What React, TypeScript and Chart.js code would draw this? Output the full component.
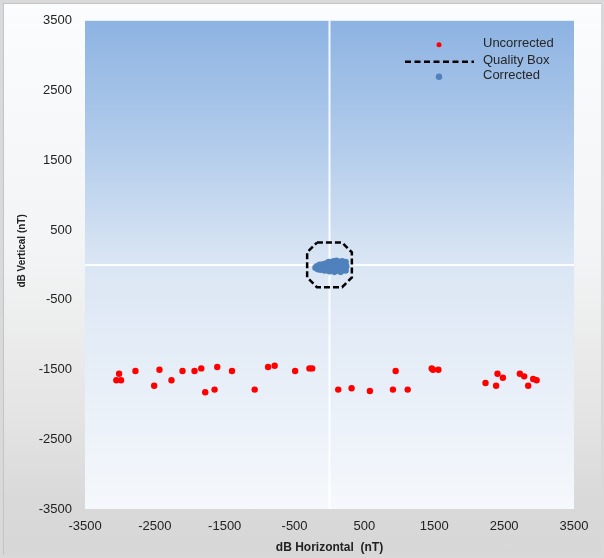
import React, { useEffect, useRef } from "react";
import { Chart, registerables } from "chart.js";

Chart.register(...registerables);

const xTickValues = [-3500, -2500, -1500, -500, 500, 1500, 2500, 3500];
const yTickValues = [-3500, -2500, -1500, -500, 500, 1500, 2500, 3500];

const uncorrectedX = [
  -3012, -3051, -2984, -2778, -2510, -2434, -2262, -2104, -1932, -1836,
  -1779, -1645, -1607, -1396, -1071, -879, -785, -492, -287, -248,
  125, 316, 578, 947, 908, 1119, 1463, 1482, 1559, 2233,
  2385, 2405, 2482, 2725, 2787, 2844, 2916, 2965,
];
const uncorrectedY = [
  -1561, -1655, -1655, -1522, -1732, -1504, -1655, -1522, -1522, -1484,
  -1825, -1788, -1465, -1522, -1788, -1465, -1447, -1522, -1484, -1484,
  -1788, -1769, -1807, -1522, -1788, -1788, -1484, -1504, -1504, -1693,
  -1732, -1561, -1618, -1561, -1598, -1732, -1636, -1655,
];

const correctedX = [
  -200, -180, -170, -150, -140, -130, -110, -100, -90, -70,
  -60, -50, -40, -20, -10, 0, 10, 20, 40, 50,
  60, 70, 80, 90, 100, 110, 120, 130, 140, 150,
  160, 170, 180, 190, 200, 210, 220, 230, 240, 230,
];
const correctedY = [
  -40, -20, -60, -30, 0, -70, -20, -50, 10, -80,
  -30, 20, -60, 0, 40, -90, -40, 30, -70, 10,
  50, -100, -30, 30, 60, -80, -10, 40, -60, 20,
  -100, -30, 50, -70, 0, -40, 30, -80, -20, 40,
];

const qualityBoxX = [-180, 180, 320, 320, 180, -180, -320, -320, -180];
const qualityBoxY = [320, 320, 180, -180, -320, -320, -180, 180, 320];

const legendLabels = ["Uncorrected", "Quality Box", "Corrected"];
const xTitle = "dB Horizontal  (nT)";
const yTitle = "dB Vertical (nT)";

const RED = "#ff0000";
const BLUE = "#4f81bd";
const FONT = "'Liberation Sans', Arial, sans-serif";

const zip = (xs: number[], ys: number[]) => xs.map((x, i) => ({ x, y: ys[i] }));

const plotBgPlugin = {
  id: "plotBg",
  beforeDraw(chart: any) {
    const { ctx, chartArea } = chart;
    const { left, top, right, bottom } = chartArea;
    const g = ctx.createLinearGradient(0, top, 0, bottom);
    g.addColorStop(0, "#8db3e2");
    g.addColorStop(0.25, "#b1cbeb");
    g.addColorStop(0.5, "#dbe6f4");
    g.addColorStop(1, "#f5f8fc");
    ctx.save();
    ctx.fillStyle = g;
    ctx.fillRect(left, top, right - left, bottom - top);
    ctx.restore();
  },
};

const zeroLinesPlugin = {
  id: "zeroLines",
  beforeDatasetsDraw(chart: any) {
    const { ctx, chartArea, scales } = chart;
    const x0 = scales.x.getPixelForValue(0);
    const y0 = scales.y.getPixelForValue(0);
    ctx.save();
    ctx.strokeStyle = "rgba(255,255,255,0.9)";
    ctx.lineWidth = 2;
    ctx.beginPath();
    ctx.moveTo(x0, chartArea.top);
    ctx.lineTo(x0, chartArea.bottom);
    ctx.moveTo(chartArea.left, y0);
    ctx.lineTo(chartArea.right, y0);
    ctx.stroke();
    ctx.restore();
  },
};

const yTitlePlugin = {
  id: "yTitle",
  afterDraw(chart: any) {
    const { ctx, chartArea } = chart;
    const cy = (chartArea.top + chartArea.bottom) / 2 - 14;
    ctx.save();
    ctx.translate(22, cy);
    ctx.rotate(-Math.PI / 2);
    ctx.font = `bold 10px ${FONT}`;
    ctx.fillStyle = "#222";
    ctx.textAlign = "center";
    ctx.textBaseline = "middle";
    ctx.fillText(yTitle, 0, 0);
    ctx.restore();
  },
};

const legendPlugin = {
  id: "customLegend",
  afterDraw(chart: any) {
    const { ctx, chartArea } = chart;
    const r = chartArea.right;
    const t = chartArea.top;
    const markX = r - 135;
    const textX = r - 91;
    const rows = [t + 23, t + 40, t + 55];
    ctx.save();
    ctx.font = `13px ${FONT}`;
    ctx.textBaseline = "middle";
    ctx.textAlign = "left";
    // Uncorrected
    ctx.beginPath();
    ctx.fillStyle = RED;
    ctx.arc(markX, rows[0] + 1, 2.5, 0, Math.PI * 2);
    ctx.fill();
    // Quality Box
    ctx.beginPath();
    ctx.strokeStyle = "#000";
    ctx.lineWidth = 2.5;
    ctx.setLineDash([6, 3.5]);
    ctx.moveTo(r - 169, rows[1] + 1);
    ctx.lineTo(r - 100, rows[1] + 1);
    ctx.stroke();
    ctx.setLineDash([]);
    // Corrected
    ctx.beginPath();
    ctx.fillStyle = BLUE;
    ctx.arc(markX, rows[2] + 1, 3.2, 0, Math.PI * 2);
    ctx.fill();
    ctx.fillStyle = "#262626";
    legendLabels.forEach((lbl, i) => ctx.fillText(lbl, textX, rows[i]));
    ctx.restore();
  },
};

export default function App() {
  const ref = useRef<HTMLCanvasElement | null>(null);

  useEffect(() => {
    if (!ref.current) return;
    const chart = new Chart(ref.current, {
      type: "scatter",
      data: {
        datasets: [
          {
            label: legendLabels[1],
            data: zip(qualityBoxX, qualityBoxY),
            showLine: true,
            borderColor: "#000000",
            borderWidth: 2.5,
            borderDash: [6, 3],
            pointRadius: 0,
            fill: false,
          } as any,
          {
            label: legendLabels[0],
            data: zip(uncorrectedX, uncorrectedY),
            backgroundColor: RED,
            borderColor: RED,
            borderWidth: 0,
            pointRadius: 3.2,
          },
          {
            label: legendLabels[2],
            data: zip(correctedX, correctedY),
            backgroundColor: BLUE,
            borderColor: BLUE,
            borderWidth: 0,
            pointRadius: 3.3,
          },
        ],
      },
      options: {
        animation: false,
        responsive: false,
        devicePixelRatio: 1,
        layout: { padding: { left: 0, top: 17, right: 30, bottom: 0 } },
        plugins: { legend: { display: false }, tooltip: { enabled: false } },
        scales: {
          x: {
            type: "linear",
            min: -3500,
            max: 3500,
            afterBuildTicks: (s: any) => {
              s.ticks = xTickValues.map((v) => ({ value: v }));
            },
            afterFit: (s: any) => {
              s.height = 49;
            },
            grid: { display: false, drawTicks: false },
            border: { display: false },
            ticks: {
              padding: 10,
              color: "#222",
              font: { family: FONT, size: 13 },
              maxRotation: 0,
              autoSkip: false,
              callback: (v: any) => String(v),
            },
            title: {
              display: true,
              text: xTitle,
              color: "#222",
              font: { family: FONT, size: 12, weight: "bold" },
              padding: { top: 0, bottom: 3 },
            },
          },
          y: {
            type: "linear",
            min: -3500,
            max: 3500,
            afterBuildTicks: (s: any) => {
              s.ticks = yTickValues.map((v) => ({ value: v }));
            },
            afterFit: (s: any) => {
              s.width = 85;
            },
            grid: { display: false, drawTicks: false },
            border: { display: false },
            ticks: {
              padding: 13,
              color: "#222",
              font: { family: FONT, size: 13 },
              autoSkip: false,
              callback: (v: any) => String(v),
            },
            title: { display: false },
          },
        },
      },
      plugins: [plotBgPlugin, zeroLinesPlugin, yTitlePlugin, legendPlugin],
    });
    return () => chart.destroy();
  }, []);

  return (
    <div
      style={{
        position: "fixed",
        left: 0,
        top: 0,
        width: 604,
        height: 558,
        background: "#d9d9d9",
      }}
    >
      <div
        style={{
          position: "absolute",
          left: 3,
          top: 3,
          width: 598,
          height: 552,
          boxSizing: "border-box",
          borderTop: "1px solid #c4c4c4",
          borderLeft: "1px solid #c4c4c4",
          background:
            "linear-gradient(to bottom, #fbfcfd 0%, #f3f4f5 45%, #e4e4e4 75%, #d9d9d9 90%, #d7d7d7 100%)",
        }}
      />
      <canvas
        ref={ref}
        width={604}
        height={558}
        style={{ position: "absolute", left: 0, top: 0, width: 604, height: 558 }}
      />
    </div>
  );
}
